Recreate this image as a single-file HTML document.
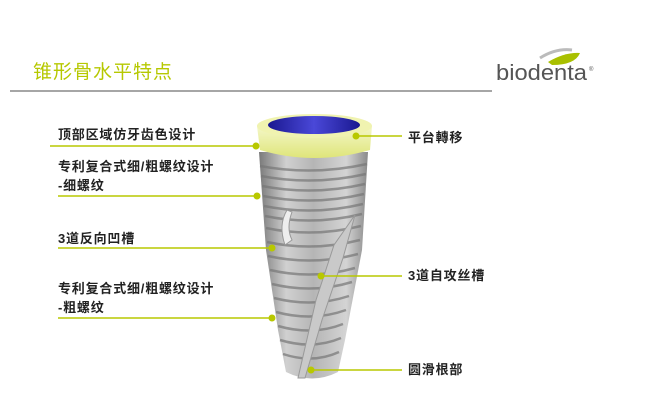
<!DOCTYPE html>
<html><head><meta charset="utf-8"><style>
html,body{margin:0;padding:0;background:#fff;}
svg{display:block}
text{font-family:"Liberation Sans","Noto Sans CJK SC",sans-serif;}
.l{font-size:13px;fill:#222;font-weight:bold;letter-spacing:0.8px}
</style></head><body>
<svg width="649" height="403" viewBox="0 0 649 403" xmlns="http://www.w3.org/2000/svg">
<defs>
<linearGradient id="body" x1="0" x2="1" y1="0" y2="0">
<stop offset="0" stop-color="#7a7a7a"/><stop offset="0.25" stop-color="#d0d0d0"/><stop offset="0.5" stop-color="#b5b5b5"/><stop offset="0.8" stop-color="#d4d4d4"/><stop offset="1" stop-color="#8a8a8a"/>
</linearGradient>
<linearGradient id="col" x1="0" x2="0" y1="0" y2="1">
<stop offset="0" stop-color="#f4f7c8"/><stop offset="1" stop-color="#dfe57a"/>
</linearGradient>
<linearGradient id="blue" x1="0" x2="1"><stop offset="0" stop-color="#1a1890"/><stop offset="0.5" stop-color="#4a48d8"/><stop offset="1" stop-color="#1a1890"/></linearGradient>
</defs>
<text x="33" y="78" font-size="19" fill="#b6c800" style="letter-spacing:1px">锥形骨水平特点</text>
<line x1="10" y1="91" x2="492" y2="91" stroke="#888" stroke-width="1.5"/>
<path d="M548 62 Q565 52 580 53 Q575 65 552 65 Z" fill="#a9c000"/>
<path d="M540 58 Q556 48 572 50" stroke="#bbb" stroke-width="3" fill="none"/>
<text x="496" y="80" font-size="22" fill="#555" textLength="91" lengthAdjust="spacingAndGlyphs">biodenta</text>
<text x="589" y="71" font-size="6" fill="#555">®</text>
<!-- implant body -->
<path d="M259 152 L368 152 L362 250 L345 340 L338 372 Q312 385 286 372 L278 330 L266 250 Z" fill="url(#body)"/>
<g stroke="#777" stroke-width="2.5" fill="none" opacity="0.7">
<path d="M260 166 Q313 176 367 164"/><path d="M261 176 Q313 186 366 174"/><path d="M262 186 Q313 196 365 184"/>
<path d="M263 196 Q313 206 364 194"/><path d="M264 206 Q313 216 363 204"/><path d="M265 216 Q313 226 362 214"/>
<path d="M266 228 Q313 238 361 226"/><path d="M267 242 Q313 252 360 240"/><path d="M268 256 Q313 266 358 254"/>
<path d="M270 270 Q313 280 355 268"/><path d="M272 284 Q313 294 352 282"/><path d="M274 298 Q313 308 349 296"/>
<path d="M276 312 Q313 322 346 310"/><path d="M278 326 Q313 336 343 324"/><path d="M280 340 Q313 350 341 338"/><path d="M283 354 Q313 364 339 352"/>
</g>
<path d="M355 215 L343 258 L322 320 L305 378 L298 378 L316 300 L334 245 Z" fill="#c9c9c9" stroke="#999" stroke-width="1"/>
<path d="M287 210 Q278 225 285 245 L292 240 Q286 228 292 212 Z" fill="#eee" stroke="#999"/>
<!-- collar -->
<path d="M257 126 L372 126 L370 150 Q314 166 260 150 Z" fill="url(#col)"/>
<ellipse cx="314.5" cy="126" rx="57.5" ry="12" fill="#f0f3b0"/>
<ellipse cx="314" cy="125" rx="46" ry="9" fill="url(#blue)"/>
<!-- leaders -->
<g stroke="#b8c800" stroke-width="1.5">
<line x1="50" y1="146" x2="256" y2="146"/><line x1="58" y1="196" x2="257" y2="196"/>
<line x1="58" y1="248" x2="272" y2="248"/><line x1="58" y1="318" x2="272" y2="318"/>
<line x1="356" y1="136" x2="402" y2="136"/><line x1="321" y1="276" x2="402" y2="276"/><line x1="311" y1="370" x2="402" y2="370"/>
</g>
<g fill="#b8c800">
<circle cx="256" cy="146" r="3.5"/><circle cx="257" cy="196" r="3.5"/><circle cx="272" cy="248" r="3.5"/><circle cx="272" cy="318" r="3.5"/>
<circle cx="356" cy="136" r="3.5"/><circle cx="321" cy="276" r="3.5"/><circle cx="311" cy="370" r="3.5"/>
</g>
<text class="l" x="58" y="139">顶部区域仿牙齿色设计</text>
<text class="l" x="58" y="171">专利复合式细/粗螺纹设计</text>
<text class="l" x="58" y="190">-细螺纹</text>
<text class="l" x="58" y="243">3道反向凹槽</text>
<text class="l" x="58" y="293">专利复合式细/粗螺纹设计</text>
<text class="l" x="58" y="312">-粗螺纹</text>
<text class="l" x="408" y="142">平台轉移</text>
<text class="l" x="408" y="280">3道自攻丝槽</text>
<text class="l" x="408" y="374">圆滑根部</text>
</svg>
</body></html>
